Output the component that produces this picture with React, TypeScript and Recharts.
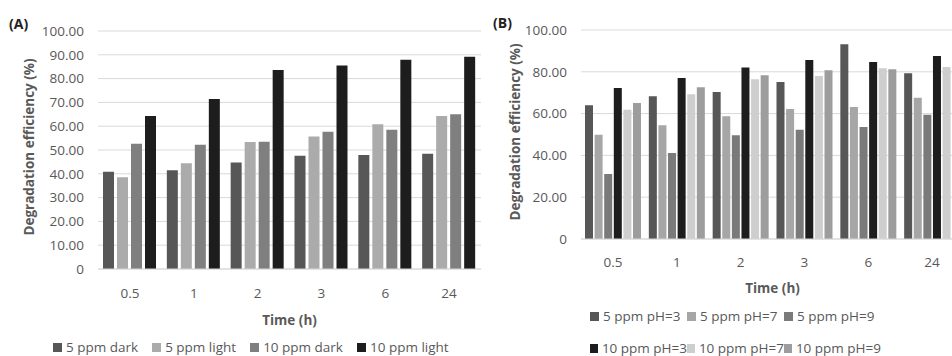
import { BarChart, Bar, XAxis, YAxis, CartesianGrid, Label } from 'recharts'

const times = ['0.5', '1', '2', '3', '6', '24']

// panel A
const dark5 = [40.9, 41.5, 44.7, 47.6, 47.9, 48.4]
const light5 = [38.5, 44.4, 53.4, 55.7, 60.8, 64.3]
const dark10 = [52.6, 52.2, 53.5, 57.7, 58.5, 65.0]
const light10 = [64.3, 71.4, 83.6, 85.5, 87.9, 89.2]

// panel B
const ph3at5 = [64.0, 68.3, 70.3, 75.1, 93.2, 79.3]
const ph7at5 = [49.9, 54.4, 58.7, 62.2, 63.2, 67.6]
const ph9at5 = [31.1, 41.1, 49.6, 52.3, 53.6, 59.5]
const ph3at10 = [72.2, 77.0, 82.1, 85.6, 84.7, 87.6]
const ph7at10 = [61.9, 69.2, 76.4, 78.0, 81.7, 82.3]
const ph9at10 = [65.1, 72.6, 78.3, 80.7, 81.2, 83.0]

const ticksA = [0, 10, 20, 30, 40, 50, 60, 70, 80, 90, 100]
const ticksB = [0, 20, 40, 60, 80, 100]

const seriesA = [
  { key: 'dark5', name: '5 ppm dark', values: dark5, color: '#575757' },
  { key: 'light5', name: '5 ppm light', values: light5, color: '#ababab' },
  { key: 'dark10', name: '10 ppm dark', values: dark10, color: '#7f7f7f' },
  { key: 'light10', name: '10 ppm light', values: light10, color: '#1d1d1d' },
]

const seriesB = [
  { key: 'ph3at5', name: '5 ppm pH=3', values: ph3at5, color: '#575757' },
  { key: 'ph7at5', name: '5 ppm pH=7', values: ph7at5, color: '#a6a6a6' },
  { key: 'ph9at5', name: '5 ppm pH=9', values: ph9at5, color: '#7a7a7a' },
  { key: 'ph3at10', name: '10 ppm pH=3', values: ph3at10, color: '#1d1d1d' },
  { key: 'ph7at10', name: '10 ppm pH=7', values: ph7at10, color: '#cecece' },
  { key: 'ph9at10', name: '10 ppm pH=9', values: ph9at10, color: '#9d9d9d' },
]

type Series = { key: string; name: string; values: number[]; color: string }

function buildRows(series: Series[]) {
  return times.map((t, i) => {
    const row: Record<string, string | number> = { time: t }
    series.forEach((s) => {
      row[s.key] = s.values[i]
    })
    return row
  })
}

const dataA = buildRows(seriesA)
const dataB = buildRows(seriesB)

const grid = '#d9d9d9'
const textGray = '#595959'
const fmt = (v: number) => (v === 0 ? '0' : v.toFixed(2))

const yTitle = (cx: number, cy: number) => () => (
  <text
    x={cx}
    y={cy}
    transform={`rotate(-90 ${cx} ${cy})`}
    textAnchor="middle"
    dominantBaseline="central"
    fill={textGray}
    fontSize={13.5}
    fontWeight="bold"
  >
    Degradation efficiency (%)
  </text>
)

function Swatch({ color }: { color: string }) {
  return (
    <span
      style={{
        display: 'inline-block',
        width: 9,
        height: 9,
        background: color,
        marginRight: 4,
      }}
    />
  )
}

export default function App() {
  return (
    <div
      style={{
        position: 'fixed',
        left: 0,
        top: 0,
        width: 952,
        height: 356,
        overflow: 'hidden',
        background: '#fff',
        fontFamily: '"Open Sans", sans-serif',
        color: textGray,
      }}
    >
      <div style={{ position: 'absolute', left: 9, top: 14, fontSize: 14, fontWeight: 'bold', color: '#222' }}>
        (A)
      </div>
      <div style={{ position: 'absolute', left: 0, top: 0 }}>
        <BarChart
          width={481}
          height={356}
          data={dataA}
          margin={{ top: 31, right: 0, bottom: 27, left: 0 }}
          barGap={3}
        >
          <CartesianGrid vertical={false} stroke={grid} />
          <XAxis
            dataKey="time"
            height={60}
            tickLine={false}
            axisLine={{ stroke: grid }}
            tickMargin={13}
            tick={{ fill: textGray, fontSize: 13.5 }}
            label={{ value: 'Time (h)', position: 'insideBottom', offset: 4, fill: textGray, fontSize: 13.5, fontWeight: 'bold' }}
          />
          <YAxis
            width={98}
            domain={[0, 100]}
            ticks={ticksA}
            tickFormatter={fmt}
            axisLine={false}
            tickLine={false}
            tickMargin={8}
            tick={{ fill: textGray, fontSize: 13.5 }}
            interval={0}
          >
            <Label content={yTitle(29, 147)} />
          </YAxis>
          {seriesA.map((s) => (
            <Bar key={s.key} dataKey={s.key} name={s.name} fill={s.color} barSize={11} isAnimationActive={false} />
          ))}
        </BarChart>
      </div>
      <div style={{ position: 'absolute', left: 53, top: 338, display: 'flex', gap: 14, fontSize: 13.5, lineHeight: '18px', whiteSpace: 'nowrap' }}>
        {seriesA.map((s) => (
          <span key={s.key} style={{ display: 'flex', alignItems: 'center' }}>
            <Swatch color={s.color} />
            {s.name}
          </span>
        ))}
      </div>

      <div style={{ position: 'absolute', left: 493, top: 13, fontSize: 14, fontWeight: 'bold', color: '#222' }}>
        (B)
      </div>
      <div style={{ position: 'absolute', left: 490, top: 0 }}>
        <BarChart
          width={474}
          height={356}
          data={dataB}
          margin={{ top: 30, right: 0, bottom: 57, left: 0 }}
          barGap={1.6}
        >
          <CartesianGrid vertical={false} stroke={grid} />
          <XAxis
            dataKey="time"
            height={60}
            tickLine={false}
            axisLine={{ stroke: grid }}
            tickMargin={12}
            tick={{ fill: textGray, fontSize: 13.5 }}
            label={{ value: 'Time (h)', position: 'insideBottom', offset: 6, fill: textGray, fontSize: 13.5, fontWeight: 'bold' }}
          />
          <YAxis
            width={91}
            domain={[0, 100]}
            ticks={ticksB}
            tickFormatter={fmt}
            axisLine={false}
            tickLine={false}
            tickMargin={8}
            tick={{ fill: textGray, fontSize: 13.5 }}
            interval={0}
          >
            <Label content={yTitle(25, 132)} />
          </YAxis>
          {seriesB.map((s) => (
            <Bar key={s.key} dataKey={s.key} name={s.name} fill={s.color} barSize={8} isAnimationActive={false} />
          ))}
        </BarChart>
      </div>
      <div
        style={{
          position: 'absolute',
          left: 590,
          top: 307,
          display: 'grid',
          gridTemplateColumns: '97px 97px 97px',
          rowGap: 14,
          fontSize: 13.5,
          lineHeight: '18px',
          whiteSpace: 'nowrap',
        }}
      >
        {seriesB.map((s) => (
          <span key={s.key} style={{ display: 'flex', alignItems: 'center' }}>
            <Swatch color={s.color} />
            {s.name}
          </span>
        ))}
      </div>
    </div>
  )
}
